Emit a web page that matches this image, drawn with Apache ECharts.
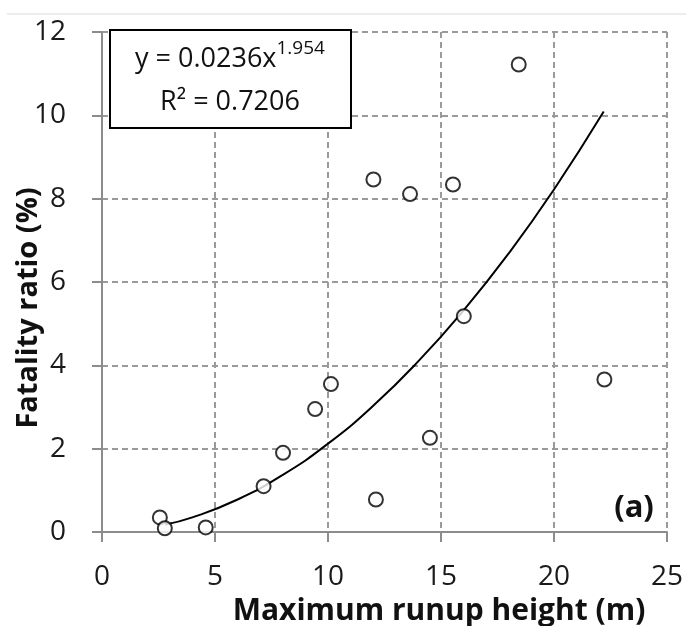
<!DOCTYPE html>
<html>
<head>
<meta charset="utf-8">
<script src="https://cdn.jsdelivr.net/npm/echarts@6/dist/echarts.min.js"></script>
<style>
  html, body { margin: 0; padding: 0; background: #fff; }
  #chart { width: 686px; height: 626px; }
</style>
</head>
<body>
<div id="chart"></div>
<script>
// observed events: max runup height (m), fatality ratio (%)
var runupHeight = [2.56, 2.78, 4.59, 7.15, 8.01, 9.43, 10.13, 12.12, 12.01, 13.63, 14.51, 15.53, 16.01, 18.44, 22.23];
var fatalityRatio = [0.35, 0.09, 0.11, 1.10, 1.90, 2.95, 3.55, 0.78, 8.46, 8.11, 2.26, 8.34, 5.18, 11.22, 3.66];

// points
var trendX = [2.8, 4, 6, 8, 10, 12, 14, 16, 18, 20, 22.2];
var trendY = [0.18, 0.35, 0.78, 1.37, 2.12, 3.03, 4.10, 5.32, 6.69, 8.22, 10.09];

var xTicks = [0, 5, 10, 15, 20, 25];
var yTicks = [0, 2, 4, 6, 8, 10, 12];

var FONT = 'Open Sans';
var gridColor = '#9a9a9a';
var axisColor = '#8c8c8c';

var chart = echarts.init(document.getElementById('chart'));

var pts = runupHeight.map(function (x, i) { return [x, fatalityRatio[i]]; });
var trend = trendX.map(function (x, i) { return [x, trendY[i]]; });

var option = {
    animation: false,
    backgroundColor: '#fff',
    grid: { left: 102, right: 17, top: 32, bottom: 94 },
    xAxis: {
        type: 'value',
        min: xTicks[0],
        max: xTicks[xTicks.length - 1],
        interval: 5,
        axisLine: { onZero: false, lineStyle: { color: axisColor, width: 2 } },
        axisTick: { show: true, length: 10, lineStyle: { color: axisColor, width: 2 } },
        axisLabel: { margin: 31, fontFamily: FONT, fontSize: 28, color: '#1a1a1a' },
        splitLine: { show: true, lineStyle: { color: gridColor, width: 2, type: [6, 4] } }
    },
    yAxis: {
        type: 'value',
        min: yTicks[0],
        max: yTicks[yTicks.length - 1],
        interval: 2,
        axisLine: { show: true, onZero: false, lineStyle: { color: axisColor, width: 2 } },
        axisTick: { show: true, length: 10, lineStyle: { color: axisColor, width: 2 } },
        axisLabel: { margin: 36, fontFamily: FONT, fontSize: 28, color: '#1a1a1a' },
        splitLine: { show: true, lineStyle: { color: gridColor, width: 2, type: [6, 4] } }
    },
    series: [
        {
            name: 'trend',
            type: 'line',
            smooth: true,
            showSymbol: false,
            data: trend,
            lineStyle: { color: '#000', width: 2 },
            z: 3
        },
        {
            name: 'events',
            type: 'scatter',
            data: pts,
            symbol: 'circle',
            symbolSize: 14,
            itemStyle: { color: '#fff', borderColor: '#000', borderWidth: 2 },
            z: 4
        }
    ],
    graphic: [
        {
            type: 'line',
            shape: { x1: 7, y1: 14, x2: 686, y2: 14 },
            style: { stroke: '#ececec', lineWidth: 2 }
        },
        {
            type: 'rect',
            shape: { x: 110, y: 30, width: 241, height: 98 },
            style: { fill: '#fff', stroke: '#000', lineWidth: 2 },
            z: 100
        },
        {
            type: 'text',
            x: 230, y: 56,
            z: 101,
            style: {
                text: '{b|y = 0.0236x}{s|1.954}',
                rich: {
                    b: { fontFamily: FONT, fontSize: 27, fill: '#111', verticalAlign: 'bottom' },
                    s: { fontFamily: FONT, fontSize: 19, fill: '#111', verticalAlign: 'top', padding: [0, 0, 14, 0] }
                },
                align: 'center',
                verticalAlign: 'middle'
            }
        },
        {
            type: 'text',
            x: 230, y: 102,
            z: 101,
            style: {
                text: 'R² = 0.7206',
                fontFamily: FONT,
                fontSize: 27,
                fill: '#111',
                align: 'center',
                verticalAlign: 'middle'
            }
        },
        {
            type: 'text',
            x: 634, y: 508,
            style: {
                text: '(a)',
                fontFamily: FONT,
                fontWeight: 'bold',
                fontSize: 31,
                fill: '#111',
                align: 'center',
                verticalAlign: 'middle'
            }
        },
        {
            type: 'text',
            x: 439, y: 611,
            style: {
                text: 'Maximum runup height (m)',
                fontFamily: FONT,
                fontWeight: 'bold',
                fontSize: 30,
                fill: '#111',
                align: 'center',
                verticalAlign: 'middle'
            }
        },
        {
            type: 'text',
            x: 29, y: 308,
            rotation: Math.PI / 2,
            style: {
                text: 'Fatality ratio (%)',
                fontFamily: FONT,
                fontWeight: 'bold',
                fontSize: 29,
                fill: '#111',
                align: 'center',
                verticalAlign: 'middle'
            }
        }
    ]
};

chart.setOption(option);
</script>
</body>
</html>
